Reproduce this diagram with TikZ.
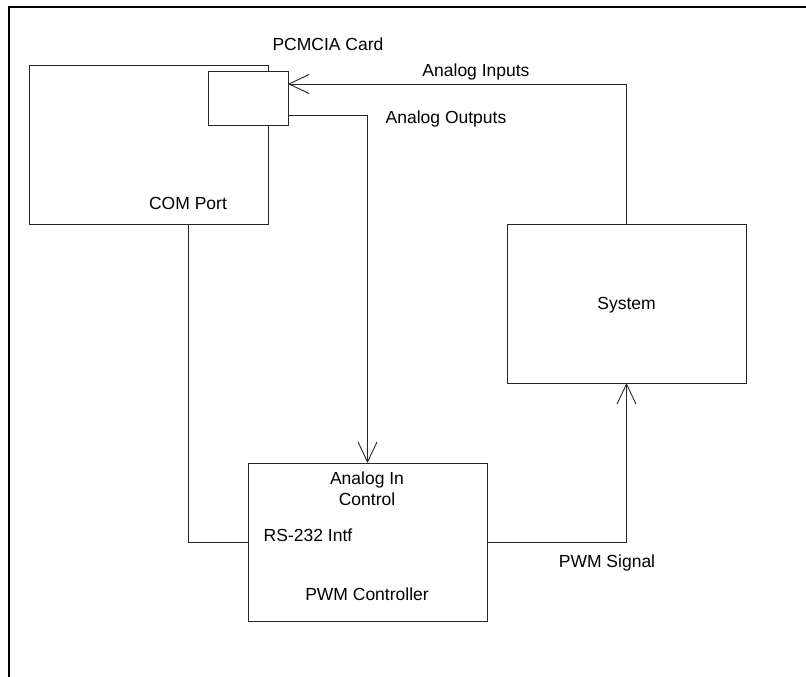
\documentclass[tikz,border=0pt]{standalone}
\usepackage{fontspec}
\setmainfont{Liberation Sans}
\usetikzlibrary{arrows.meta}
\begin{document}
\begin{tikzpicture}[x=1pt,y=-1pt,
  box/.style={draw=black!85,line width=0.9pt,inner sep=0pt,outer sep=0pt,fill=white},
  lbl/.style={font=\fontsize{17.5}{20}\selectfont,inner sep=0pt,anchor=base},
  wire/.style={draw=black!85,line width=0.9pt},
  arr/.style={wire,-{Straight Barb[length=20pt,width=19pt,line width=0.9pt]}}]
\useasboundingbox (0,0) rectangle (806,677);
% outer frame (top and left)
\coordinate (fbl) at (9,677);
\coordinate (ftl) at (9,7);
\coordinate (ftr) at (806,7);
\draw[line width=2pt] (fbl) -- (ftl) -- (ftr);
% boxes
\node[box,minimum width=239pt,minimum height=159pt] (comp) at (148.5,144.5) {};
\node[box,minimum width=80pt,minimum height=54pt] (card) at (248,98) {};
\node[box,minimum width=239pt,minimum height=159pt] (sys) at (626.5,303.5) {};
\node[box,minimum width=239pt,minimum height=158pt] (ctrl) at (367.5,542) {};
% connectors
\draw[arr] (sys.north) |- ([yshift=-13pt]card.north east);
\draw[arr] ([yshift=10pt]card.south east) -| (ctrl.north);
\draw[wire] ([xshift=159.5pt]comp.south west) |- (ctrl.west);
\draw[arr] (ctrl.east) -| (sys.south);
% labels
\node[lbl] (tcard) at (328,51) {PCMCIA Card};
\node[lbl] (tin) at (476,77) {Analog Inputs};
\node[lbl] (tout) at (446,123) {Analog Outputs};
\node[lbl] (tcom) at (188,209) {COM Port};
\node[lbl] (tsys) at (626.5,309) {System};
\node[lbl] (tain) at (367,484) {Analog In};
\node[lbl] (tctl) at (367,505) {Control};
\node[lbl] (trs) at (308,541) {RS-232 Intf};
\node[lbl] (tpwmc) at (367,600) {PWM Controller};
\node[lbl] (tpwms) at (607,567) {PWM Signal};
\end{tikzpicture}
\end{document}
